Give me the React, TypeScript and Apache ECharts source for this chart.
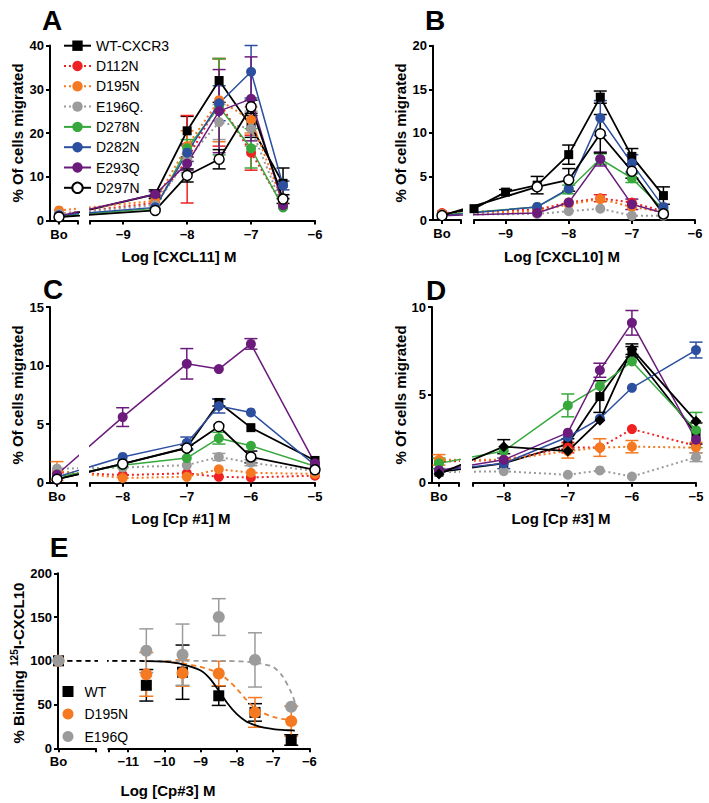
import React, { useEffect, useRef } from 'react';
import * as echarts from 'echarts';

const FONT = '"Liberation Sans", Arial, Helvetica, sans-serif';

// ---------- series identity ----------
const NAMES = ['WT-CXCR3', 'D112N', 'D195N', 'E196Q.', 'D278N', 'D282N', 'E293Q', 'D297N'];
const COLORS = ['#000000', '#ee2222', '#f47920', '#9b9b9b', '#36a83c', '#2c4fa0', '#6b1b7b', '#000000'];
const DOTTED = [false, true, true, true, false, false, false, false];
const SYMBOLS = ['rect', 'circle', 'circle', 'circle', 'circle', 'circle', 'circle', 'circle'];

// ---------- Panel A : CXCL11 ----------
const X_A: (string | number)[] = ['Bo', -8.5, -8, -7.5, -7, -6.5];
const VALUES_A = [
  [0.8, 6.0, 20.5, 32.0, 21.5, 8.5],
  [1.5, 4.0, 14.0, 27.0, 15.5, 3.5],
  [2.3, 4.5, 17.0, 27.5, 23.0, 4.0],
  [1.5, 3.5, 14.0, 22.5, 21.0, 3.0],
  [1.0, 2.8, 16.5, 26.0, 16.5, 3.0],
  [1.2, 3.0, 15.5, 26.8, 34.0, 8.0],
  [1.0, 6.0, 13.0, 25.0, 27.8, 3.5],
  [0.8, 2.3, 10.3, 14.0, 26.0, 4.9],
];
const ERRORS_A = [
  [null, 1.0, 3.3, 5.0, 2.5, 3.5],
  [null, null, 10, 10, 4, null],
  [null, null, 3.5, 9.5, 3, null],
  [null, null, 3, 4, 4, null],
  [null, null, 2, 11, 4.5, null],
  [null, null, 2, 4, 6, 1],
  [null, 0.6, 1.5, 9.5, 9.6, null],
  [null, null, 1.5, 2.2, 1.5, 1],
];

// ---------- Panel B : CXCL10 ----------
const X_B: (string | number)[] = ['Bo', -9.5, -9, -8.5, -8, -7.5, -7, -6.5];
const VALUES_B = [
  [0.6, 1.3, 3.2, 4.0, 7.5, 14.1, 7.3, 2.8],
  [0.8, null, null, 1.2, 2.0, 2.5, 2.0, 1.0],
  [0.7, null, null, 1.0, 1.8, 2.4, 1.5, 0.9],
  [0.6, null, null, 0.7, 1.0, 1.3, 0.5, 0.5],
  [0.6, null, null, 1.5, 3.5, 7.0, 4.8, 1.2],
  [0.5, null, null, 1.5, 3.6, 11.7, 6.5, 1.5],
  [0.5, null, null, 0.8, 2.0, 7.0, 1.8, 0.8],
  [0.5, null, null, 3.8, 4.6, 9.9, 5.6, 0.7],
];
const ERRORS_B = [
  [null, null, 0.3, 1.0, 1.1, 0.7, 0.9, 1.0],
  [null, null, null, null, null, 0.4, null, null],
  [null, null, null, null, null, null, null, null],
  [null, null, null, null, null, null, null, null],
  [null, null, null, null, 0.5, 0.6, 0.5, null],
  [null, null, null, null, null, 2.0, 1.0, null],
  [null, null, null, null, null, 0.8, 0.6, null],
  [null, null, null, null, 1.3, 2.2, 0.8, null],
];

// ---------- Panel C : Cp #1 ----------
const X_C: (string | number)[] = ['Bo', -8, -7, -6.5, -6, -5];
const VALUES_C = [
  [0.3, 1.6, 3.0, 6.85, 4.7, 1.9],
  [0.9, 0.65, 0.8, 0.5, 0.45, 0.6],
  [1.0, 0.4, 0.5, 1.15, 0.85, 0.75],
  [1.2, 1.3, 1.5, 2.2, 1.7, 1.0],
  [0.5, 1.5, 2.1, 3.8, 3.15, 1.4],
  [0.5, 2.2, 3.4, 6.55, 6.0, 1.5],
  [0.7, 5.6, 10.15, 9.7, 11.85, 1.65],
  [0.3, 1.6, 2.95, 4.8, 2.2, 1.1],
];
const ERRORS_C = [
  [null, null, 0.2, 0.3, null, null],
  [null, null, null, null, null, null],
  [0.8, null, null, null, null, null],
  [null, null, null, 0.3, 0.25, null],
  [null, null, null, 0.5, null, null],
  [null, null, 0.5, 0.6, null, null],
  [null, 0.8, 1.3, null, 0.45, null],
  [null, null, null, null, 0.5, null],
];

// ---------- Panel D : Cp #3 ----------
const X_D: (string | number)[] = ['Bo', -8, -7, -6.5, -6, -5];
const VALUES_D = [
  [0.6, 1.1, 2.2, 4.9, 7.45, 2.8],
  [1.2, 1.3, 2.0, 2.0, 3.05, 2.1],
  [1.3, 1.3, 1.8, 2.0, 2.05, 2.0],
  [0.6, 0.65, 0.45, 0.7, 0.35, 1.45],
  [1.1, 1.8, 4.4, 5.5, 6.9, 3.0],
  [0.7, 1.1, 2.6, 3.65, 5.4, 7.55],
  [0.7, 1.3, 2.85, 6.4, 9.1, 2.45],
  [0.5, 2.05, 1.8, 3.55, 7.6, 3.5],
];
const ERRORS_D = [
  [null, null, 0.3, 0.9, 0.3, 0.6],
  [null, null, 0.3, null, null, null],
  [0.3, null, 0.4, 0.5, 0.35, 0.3],
  [null, null, null, null, null, 0.25],
  [0.3, null, 0.65, null, null, 1.0],
  [null, 0.3, null, null, null, 0.45],
  [null, null, null, 0.4, 0.7, null],
  [null, 0.4, null, null, 0.3, null],
];

// ---------- Panel E : binding ----------
const E_NAMES = ['WT', 'D195N', 'E196Q'];
const E_COLORS = ['#000000', '#f47920', '#9b9b9b'];
const E_SYMBOLS = ['rect', 'circle', 'circle'];
const X_E: (string | number)[] = ['Bo', -10.5, -9.5, -8.5, -7.5, -6.5];
const VALUES_E = [
  [100, 72, 87, 60, 41, 9.5],
  [100, 84.5, 86, 85.5, 41, 31],
  [100, 111.5, 107, 150, 101, 47.5],
];
const ERRORS_E = [
  [null, 18, 31, 11, 10, 6],
  [null, 25, 15, 14, 17, 17],
  [null, 25, 35, 21, 31, null],
];
const FIT_X_E: (string | number)[] = ['Bo', -11.5, -11, -10.5, -10, -9.5, -9, -8.75, -8.5, -8.25, -8, -7.75, -7.5, -7.25, -7, -6.75, -6.5, -6.4];
const FITS_E = [
  [100, 100, 100, 99.7, 99, 96, 89, 80, 66, 51, 39, 31, 26.5, 23.5, 22, 21, 20.5, 20.3],
  [100, 100, 100, 100, 99.5, 97, 93, 90, 86, 78, 68, 56, 46, 40, 36, 33.5, 32, 31.5],
  [100, 100, 100, 100, 100, 100, 100, 100, 100, 99.8, 99.5, 99, 98, 96, 93, 83, 64, 53],
];

// ---------- texts ----------
const PANEL_LETTERS = ['A', 'B', 'C', 'D', 'E'];
const X_TITLES = ['Log [CXCL11] M', 'Log [CXCL10] M', 'Log [Cp #1] M', 'Log [Cp #3] M', 'Log [Cp#3] M'];
const Y_TITLE = '% Of cells migrated';

// ---------- layout (pixels) ----------
type Layout = {
  axisPx: number; boPx: number; boEndPx: number; mainStartPx: number; mainEndPx: number;
  mainMin: number; mainMax: number; top: number; bottom: number;
};
const LAYOUTS: Layout[] = [
  { axisPx: 50, boPx: 59, boEndPx: 77.5, mainStartPx: 90, mainEndPx: 315, mainMin: -9.52, mainMax: -6, top: 45.5, bottom: 220.5 },
  { axisPx: 433, boPx: 442, boEndPx: 461, mainStartPx: 474, mainEndPx: 695, mainMin: -9.5, mainMax: -6, top: 45.7, bottom: 220 },
  { axisPx: 50, boPx: 57, boEndPx: 77, mainStartPx: 90, mainEndPx: 315, mainMin: -8.51, mainMax: -5, top: 307, bottom: 482.7 },
  { axisPx: 432, boPx: 439, boEndPx: 459, mainStartPx: 473, mainEndPx: 696, mainMin: -8.48, mainMax: -5, top: 307, bottom: 482.7 },
  { axisPx: 58, boPx: 58.5, boEndPx: 95.7, mainStartPx: 108.3, mainEndPx: 309.3, mainMin: -11.55, mainMax: -6, top: 573.3, bottom: 748.3 },
];

function geom(L: Layout) {
  const unit = (L.mainEndPx - L.mainStartPx) / (L.mainMax - L.mainMin);
  const bo = L.mainMin - (L.mainStartPx - L.boPx) / unit;
  const boMin = bo - (L.boPx - L.axisPx) / unit;
  const boMax = bo + (L.boEndPx - L.boPx) / unit;
  return { unit, bo, boMin, boMax };
}

const fmtMinus = (v: number) => (v < 0 ? '\u2212' : '') + Math.abs(v);

function errSeries(gi: number, color: string, data: number[][], capW = 13) {
  return {
    type: 'custom',
    xAxisIndex: gi,
    yAxisIndex: gi,
    data,
    z: 2,
    silent: true,
    encode: { x: 0, y: [1, 2] },
    renderItem: (_p: any, api: any) => {
      const x = api.value(0);
      const a = api.coord([x, api.value(1)]);
      const b = api.coord([x, api.value(2)]);
      const st = { stroke: color, lineWidth: 1.5 };
      const h = capW / 2;
      return {
        type: 'group',
        children: [
          { type: 'line', shape: { x1: a[0], y1: a[1], x2: b[0], y2: b[1] }, style: st },
          { type: 'line', shape: { x1: b[0] - h, y1: b[1], x2: b[0] + h, y2: b[1] }, style: st },
          { type: 'line', shape: { x1: a[0] - h, y1: a[1], x2: a[0] + h, y2: a[1] }, style: st },
        ],
      };
    },
  };
}

function buildOption() {
  const grid: any[] = [];
  const xAxis: any[] = [];
  const yAxis: any[] = [];
  const lineSeries: any[] = [];
  const errorSeries: any[] = [];

  const axisLine = { show: true, onZero: false, lineStyle: { color: '#000', width: 2 } };
  const tick = { show: true, length: 4, inside: false, lineStyle: { color: '#000', width: 2 } };
  const label = { show: true, color: '#000', fontFamily: FONT, fontWeight: 'bold', fontSize: 13 };

  function addAxes(L: Layout, yMax: number, yInt: number, mainTicks: number[]) {
    const g = geom(L);
    const gi = grid.length;
    const h = L.bottom - L.top;
    grid.push({ left: L.axisPx, top: L.top, width: L.boEndPx - L.axisPx, height: h, containLabel: false, outerBoundsMode: 'none' });
    grid.push({ left: L.mainStartPx, top: L.top, width: L.mainEndPx - L.mainStartPx, height: h, containLabel: false, outerBoundsMode: 'none' });
    xAxis.push({
      type: 'value', gridIndex: gi, min: g.boMin, max: g.boMax, axisLine,
      axisTick: { ...tick, customValues: [g.bo, g.boMax] },
      axisLabel: { ...label, margin: 7, customValues: [g.bo], formatter: () => 'Bo' },
      splitLine: { show: false },
    });
    xAxis.push({
      type: 'value', gridIndex: gi + 1, min: L.mainMin, max: L.mainMax, axisLine,
      axisTick: { ...tick, customValues: [L.mainMin, ...mainTicks] },
      axisLabel: { ...label, margin: 7, customValues: mainTicks, formatter: fmtMinus, showMaxLabel: true },
      splitLine: { show: false },
    });
    yAxis.push({
      type: 'value', gridIndex: gi, min: 0, max: yMax, interval: yInt, axisLine,
      axisTick: tick, axisLabel: { ...label, margin: 6 }, splitLine: { show: false },
    });
    yAxis.push({ type: 'value', gridIndex: gi + 1, min: 0, max: yMax, show: false, splitLine: { show: false } });
    return { gi, g };
  }

  function addMigration(p: number, xs: (string | number)[], vals: (number | null)[][], errs: (number | null)[][], yMax: number, yInt: number, mainTicks: number[], diamondLast = false) {
    const L = LAYOUTS[p];
    const { gi, g } = addAxes(L, yMax, yInt, mainTicks);
    const xv = (x: string | number) => (x === 'Bo' ? g.bo : (x as number));
    for (let s = 0; s < NAMES.length; s++) {
      const pts = xs.map((x, i) => (vals[s][i] == null ? null : [xv(x), vals[s][i] as number])).filter((q) => q) as number[][];
      const open = s === 7 && !diamondLast;
      const symbol = s === 7 && diamondLast ? 'diamond' : SYMBOLS[s];
      const symbolSize = symbol === 'rect' ? 9 : symbol === 'diamond' ? 11 : 10;
      for (const k of [gi, gi + 1]) {
        lineSeries.push({
          type: 'line', name: NAMES[s], xAxisIndex: k, yAxisIndex: k, data: pts, clip: true,
          symbol, symbolSize, showSymbol: true, silent: true, z: 3,
          itemStyle: open ? { color: '#ffffff', borderColor: '#000', borderWidth: 1.5, opacity: 1 } : { color: COLORS[s], borderWidth: 0, opacity: 1 },
          lineStyle: { color: COLORS[s], width: DOTTED[s] ? 2 : COLORS[s] === '#000000' ? 1.8 : 1.5, type: DOTTED[s] ? [2, 3] : 'solid' },
        });
      }
      const bars = xs
        .map((x, i) => (errs[s][i] == null || vals[s][i] == null ? null : [xv(x), Math.max(0, (vals[s][i] as number) - (errs[s][i] as number)), (vals[s][i] as number) + (errs[s][i] as number)]))
        .filter((q) => q) as number[][];
      const boBars = bars.filter((b) => b[0] <= g.boMax);
      const mainBars = bars.filter((b) => b[0] >= L.mainMin);
      if (boBars.length) errorSeries.push(errSeries(gi, COLORS[s], boBars));
      if (mainBars.length) errorSeries.push(errSeries(gi + 1, COLORS[s], mainBars));
    }
  }

  addMigration(0, X_A, VALUES_A, ERRORS_A, 40, 10, [-9, -8, -7, -6]);
  addMigration(1, X_B, VALUES_B, ERRORS_B, 20, 5, [-9, -8, -7, -6]);
  addMigration(2, X_C, VALUES_C, ERRORS_C, 15, 5, [-8, -7, -6, -5]);
  addMigration(3, X_D, VALUES_D, ERRORS_D, 10, 5, [-8, -7, -6, -5], true);

  // Panel E
  const LE = LAYOUTS[4];
  const { gi: ge, g: gE } = addAxes(LE, 200, 50, [-11, -10, -9, -8, -7, -6]);
  const xvE = (x: string | number) => (x === 'Bo' ? gE.bo : (x as number));
  const fitPts = (f: number[], from: number, to: number) => FIT_X_E.slice(from, to).map((x, i) => [xvE(x), f[from + i]]);
  const fitDefs = [
    { data: fitPts(FITS_E[2], 0, FIT_X_E.length), color: E_COLORS[2], type: [5, 4] },
    { data: fitPts(FITS_E[1], 4, FIT_X_E.length), color: E_COLORS[1], type: [5, 4] },
    { data: fitPts(FITS_E[0], 0, 4), color: E_COLORS[0], type: [5, 4] },
    { data: fitPts(FITS_E[0], 3, FIT_X_E.length), color: E_COLORS[0], type: 'solid' },
  ];
  for (const fd of fitDefs) {
    for (const k of [ge, ge + 1]) {
      lineSeries.push({
        type: 'line', xAxisIndex: k, yAxisIndex: k, data: fd.data, clip: true, showSymbol: false,
        symbol: 'none', silent: true, z: 2, smooth: 0.3, lineStyle: { color: fd.color, width: 1.8, type: fd.type },
      });
    }
  }
  for (let s = 0; s < 3; s++) {
    const pts = X_E.map((x, i) => [xvE(x), VALUES_E[s][i]]);
    const boPts = pts.filter((q) => q[0] <= gE.boMax);
    const mainPts = pts.filter((q) => q[0] >= LE.mainMin);
    const sty = {
      type: 'scatter', name: E_NAMES[s], symbol: E_SYMBOLS[s], symbolSize: E_SYMBOLS[s] === 'rect' ? 11 : 12,
      itemStyle: { color: E_COLORS[s], opacity: 1 }, silent: true, z: 4,
    };
    lineSeries.push({ ...sty, xAxisIndex: ge, yAxisIndex: ge, data: boPts });
    lineSeries.push({ ...sty, xAxisIndex: ge + 1, yAxisIndex: ge + 1, data: mainPts });
    const bars = X_E
      .map((x, i) => (ERRORS_E[s][i] == null ? null : [xvE(x), Math.max(0, VALUES_E[s][i] - (ERRORS_E[s][i] as number)), VALUES_E[s][i] + (ERRORS_E[s][i] as number)]))
      .filter((q) => q) as number[][];
    const mb = bars.filter((b) => b[0] >= LE.mainMin);
    if (mb.length) errorSeries.push(errSeries(ge + 1, E_COLORS[s], mb, 14));
  }

  // texts
  const txt = (text: string, x: number, y: number, size: number, bold: boolean, rot = 0) => ({
    type: 'text', x, y, rotation: rot, silent: true, z: 10,
    style: {
      text, fill: '#000', fontSize: size, fontWeight: bold ? 'bold' : 'normal', fontFamily: FONT,
      align: 'center', verticalAlign: 'middle', textAlign: 'center', textVerticalAlign: 'middle',
    },
  });
  const letterPos = [[52, 20], [435, 20], [53, 289], [436, 290], [59, 547]];
  const xTitlePos = [[179, 256], [562, 256], [181, 518], [561, 518], [168, 790.5]];
  const yTitlePos = [[17, 133], [400, 133], [17, 395], [400, 395]];
  const graphic: any[] = [];
  PANEL_LETTERS.forEach((l, i) => graphic.push(txt(l, letterPos[i][0], letterPos[i][1], 28, true)));
  X_TITLES.forEach((t, i) => graphic.push(txt(t, xTitlePos[i][0], xTitlePos[i][1], 15, true)));
  yTitlePos.forEach((p) => graphic.push(txt(Y_TITLE, p[0], p[1], 15, true, Math.PI / 2)));
  graphic.push({
    type: 'text', x: 18, y: 663, rotation: Math.PI / 2, silent: true, z: 10,
    style: {
      text: '{a|% Binding }{s|125}{a|I-CXCL10}',
      fill: '#000', fontFamily: FONT, fontWeight: 'bold', fontSize: 15,
      align: 'center', verticalAlign: 'middle', textAlign: 'center', textVerticalAlign: 'middle',
      rich: {
        a: { fontSize: 15, fontWeight: 'bold', fontFamily: FONT, fill: '#000', lineHeight: 18 },
        s: { fontSize: 10, fontWeight: 'bold', fontFamily: FONT, fill: '#000', verticalAlign: 'top', lineHeight: 18, padding: [0, 0, 6, 0] },
      },
    },
  });

  return {
    animation: false,
    backgroundColor: '#ffffff',
    grid,
    xAxis,
    yAxis,
    legend: [
      {
        left: 63, top: 38.7, orient: 'vertical', padding: 0, itemWidth: 27, itemHeight: 13, itemGap: 6.3,
        selectedMode: false, data: NAMES,
        textStyle: { fontSize: 14, fontFamily: FONT, color: '#000' },
      },
      {
        left: 62.5, top: 684.5, orient: 'vertical', padding: 0, itemWidth: 11, itemHeight: 11, itemGap: 8.5,
        selectedMode: false,
        data: [
          { name: 'WT', icon: 'rect', itemStyle: { color: E_COLORS[0], opacity: 1 } },
          { name: 'D195N', icon: 'circle', itemStyle: { color: E_COLORS[1], borderWidth: 0, opacity: 1 } },
          { name: 'E196Q', icon: 'circle', itemStyle: { color: E_COLORS[2], opacity: 1 } },
        ],
        textStyle: { fontSize: 14, fontFamily: FONT, color: '#000', padding: [0, 0, 0, 6] },
      },
    ],
    graphic,
    series: [...errorSeries, ...lineSeries],
  };
}

export default function App() {
  const ref = useRef<HTMLDivElement>(null);
  useEffect(() => {
    if (!ref.current) return;
    const chart = echarts.init(ref.current, null, { renderer: 'svg' });
    chart.setOption(buildOption() as any);
    return () => chart.dispose();
  }, []);
  return <div ref={ref} style={{ position: 'absolute', left: 0, top: 0, width: 709, height: 803, background: '#fff' }} />;
}
